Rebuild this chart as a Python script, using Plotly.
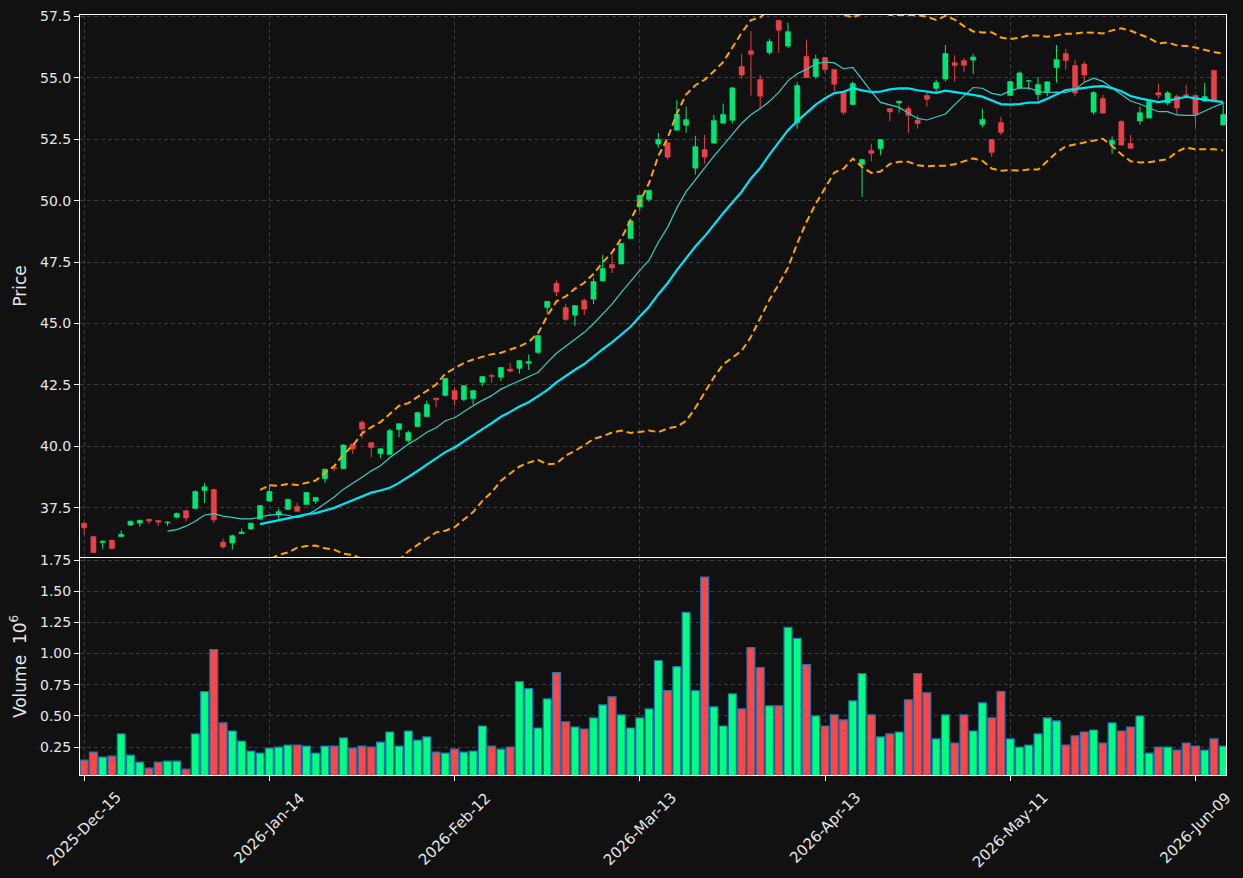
import plotly.graph_objects as go
import pandas as pd

# ---------------- data ----------------
opens = [36.87, 36.32, 36.08, 36.18, 36.32, 36.79, 36.87, 37.03, 36.98, 36.89,
         37.11, 37.38, 37.47, 38.20, 38.24, 36.10, 36.06, 36.44, 36.63, 37.03,
         37.77, 37.20, 37.43, 37.55, 37.63, 37.76, 38.68, 39.13, 39.09, 40.09,
         40.98, 40.15, 39.70, 39.66, 40.68, 40.23, 40.80, 41.21, 41.96, 42.07,
         42.27, 41.90, 41.94, 42.60, 42.88, 42.81, 43.14, 43.17, 43.38, 43.82,
         45.65, 46.63, 45.65, 45.34, 45.94, 45.99, 46.73, 47.40, 47.42, 48.46,
         49.74, 50.05, 52.30, 52.36, 52.87, 53.07, 51.32, 52.08, 52.34, 53.15,
         53.27, 55.46, 56.10, 54.93, 56.03, 57.34, 56.29, 53.17, 55.87, 55.05,
         55.83, 55.34, 54.44, 53.91, 51.47, 52.04, 52.12, 53.75, 53.98, 53.75,
         53.28, 54.28, 54.57, 54.95, 55.62, 55.70, 55.72, 53.10, 52.49, 53.18,
         54.28, 54.59, 54.86, 54.32, 54.43, 55.42, 55.99, 55.50, 55.56, 53.60,
         54.16, 52.29, 53.22, 52.33, 53.24, 53.36, 54.40, 53.97, 54.25, 54.31,
         54.28, 54.05, 55.30, 53.08]
highs = [36.88, 36.36, 36.17, 36.18, 36.57, 36.97, 37.00, 37.04, 36.99, 36.95,
         37.30, 37.39, 38.21, 38.51, 38.27, 36.24, 36.40, 36.65, 36.88, 37.61,
         38.45, 37.46, 37.86, 37.70, 38.13, 37.93, 39.08, 39.22, 40.08, 40.10,
         41.06, 40.16, 39.91, 40.72, 40.93, 40.64, 41.41, 41.86, 41.97, 42.77,
         42.38, 42.48, 42.28, 42.85, 42.95, 43.22, 43.41, 43.50, 43.74, 44.52,
         45.91, 46.75, 45.80, 45.74, 46.02, 46.85, 47.80, 47.81, 48.27, 49.27,
         50.23, 50.43, 52.76, 52.37, 54.10, 53.82, 52.64, 52.68, 53.49, 53.95,
         54.63, 55.98, 56.90, 55.12, 56.59, 57.35, 57.24, 54.82, 56.55, 55.94,
         55.84, 55.35, 54.45, 54.85, 51.70, 52.31, 52.50, 53.76, 54.08, 53.86,
         53.48, 54.43, 54.92, 56.34, 55.92, 55.80, 55.98, 53.74, 52.50, 53.41,
         54.86, 55.26, 54.90, 55.04, 54.85, 56.34, 56.18, 55.73, 55.66, 54.46,
         54.31, 52.62, 53.27, 52.67, 53.82, 54.05, 54.76, 54.46, 54.31, 54.72,
         54.29, 54.80, 55.31, 53.98]
lows = [36.40, 35.65, 35.83, 35.83, 36.31, 36.77, 36.72, 36.84, 36.76, 36.76,
        37.06, 36.94, 37.43, 37.69, 36.88, 35.83, 35.79, 36.43, 36.62, 37.02,
        37.72, 37.03, 37.41, 37.34, 37.62, 37.65, 38.51, 38.99, 39.08, 39.68,
        40.32, 39.56, 39.51, 39.65, 40.37, 40.14, 40.79, 41.20, 41.59, 42.02,
        41.66, 41.83, 41.70, 42.45, 42.58, 42.65, 43.00, 42.95, 43.10, 43.75,
        45.37, 46.11, 45.10, 44.89, 45.34, 45.79, 46.72, 47.05, 47.41, 48.45,
        49.58, 49.95, 52.15, 51.68, 52.86, 52.76, 51.06, 51.51, 52.33, 53.14,
        53.15, 54.96, 54.27, 53.71, 55.94, 56.02, 56.21, 52.92, 55.00, 54.96,
        55.20, 54.46, 53.49, 53.90, 50.15, 51.60, 51.85, 53.23, 53.58, 52.75,
        52.93, 53.82, 54.43, 54.84, 54.84, 55.23, 55.16, 52.99, 51.78, 52.67,
        54.27, 54.58, 54.51, 54.08, 54.25, 54.80, 55.33, 54.25, 54.84, 53.50,
        53.54, 51.91, 52.25, 52.12, 53.09, 53.35, 54.15, 53.88, 53.50, 54.15,
        52.99, 54.04, 54.01, 53.07]
closes = [36.68, 35.67, 36.14, 35.83, 36.42, 36.95, 36.99, 36.95, 36.91, 36.92,
          37.27, 37.08, 38.16, 38.35, 37.00, 35.90, 36.36, 36.51, 36.87, 37.59,
          38.16, 37.34, 37.84, 37.35, 38.12, 37.92, 39.07, 39.09, 40.05, 39.89,
          40.70, 39.95, 39.90, 40.64, 40.92, 40.56, 41.37, 41.70, 41.89, 42.76,
          41.90, 42.47, 42.27, 42.84, 42.84, 43.21, 43.06, 43.49, 43.45, 44.51,
          45.90, 46.28, 45.16, 45.73, 45.58, 46.71, 47.24, 47.26, 48.26, 49.17,
          50.22, 50.42, 52.49, 51.77, 53.51, 53.30, 52.20, 51.77, 53.26, 53.51,
          54.59, 55.11, 55.96, 54.25, 56.48, 56.94, 56.88, 54.69, 55.01, 55.77,
          55.34, 54.74, 53.59, 54.77, 51.67, 51.92, 52.49, 53.61, 54.05, 53.47,
          53.14, 54.12, 54.81, 55.99, 55.50, 55.51, 55.85, 53.31, 51.96, 52.78,
          54.85, 55.20, 54.89, 54.73, 54.84, 55.75, 55.70, 54.38, 55.11, 54.40,
          53.56, 52.45, 52.26, 52.13, 53.58, 54.04, 54.30, 54.39, 53.77, 54.25,
          53.52, 54.24, 54.02, 53.51]
volume_millions = [0.145, 0.210, 0.170, 0.177, 0.355, 0.185, 0.129, 0.081, 0.129, 0.137,
                   0.137, 0.073, 0.355, 0.694, 1.032, 0.444, 0.379, 0.298, 0.218, 0.202,
                   0.242, 0.250, 0.266, 0.266, 0.258, 0.202, 0.258, 0.258, 0.323, 0.242,
                   0.258, 0.250, 0.290, 0.371, 0.258, 0.379, 0.306, 0.331, 0.210, 0.202,
                   0.234, 0.210, 0.218, 0.419, 0.258, 0.234, 0.250, 0.774, 0.718, 0.403,
                   0.637, 0.847, 0.452, 0.411, 0.395, 0.484, 0.589, 0.653, 0.508, 0.403,
                   0.484, 0.556, 0.944, 0.702, 0.895, 1.331, 0.702, 1.613, 0.573, 0.419,
                   0.677, 0.556, 1.048, 0.887, 0.581, 0.581, 1.210, 1.121, 0.911, 0.500,
                   0.419, 0.508, 0.468, 0.621, 0.839, 0.508, 0.331, 0.355, 0.371, 0.629,
                   0.839, 0.685, 0.315, 0.508, 0.282, 0.508, 0.379, 0.605, 0.484, 0.694,
                   0.315, 0.250, 0.266, 0.355, 0.484, 0.460, 0.266, 0.339, 0.371, 0.387,
                   0.282, 0.444, 0.379, 0.411, 0.500, 0.202, 0.250, 0.250, 0.226, 0.282,
                   0.258, 0.226, 0.315, 0.258]
tick_labels = ["2025-Dec-15", "2026-Jan-14", "2026-Feb-12", "2026-Mar-13",
               "2026-Apr-13", "2026-May-11", "2026-Jun-09"]
tick_step = 20

# ---------------- derived series ----------------
n = len(closes)
xi = list(range(n))
cs = pd.Series(closes)
ma10 = cs.rolling(10).mean()
ma20 = cs.rolling(20).mean()
sd20 = cs.rolling(20).std()
bb_up = ma20 + 2 * sd20
bb_lo = ma20 - 2 * sd20

UP_C, DN_C = "#00e676", "#e8414a"
VUP_C, VDN_C = "#00ff80", "#ff4545"
up = [c >= o for o, c in zip(opens, closes)]
body_base = [min(o, c) for o, c in zip(opens, closes)]
body_h = [max(abs(c - o), 0.025) for o, c in zip(opens, closes)]
body_col = [UP_C if u else DN_C for u in up]

fig = go.Figure()

# wicks
for flag, col in ((True, UP_C), (False, DN_C)):
    wx, wy = [], []
    for i in xi:
        if up[i] == flag:
            wx += [i, i, None]
            wy += [lows[i], highs[i], None]
    fig.add_trace(go.Scatter(x=wx, y=wy, mode="lines", line=dict(color=col, width=1),
                             hoverinfo="skip", xaxis="x", yaxis="y"))

# candle bodies
fig.add_trace(go.Bar(x=xi, y=body_h, base=body_base, width=0.56,
                     marker=dict(color=body_col, line=dict(color=body_col, width=0.5)),
                     xaxis="x", yaxis="y"))

# moving averages / bollinger
fig.add_trace(go.Scatter(x=xi, y=ma10, mode="lines", line=dict(color="#3ccbc3", width=1.2),
                         xaxis="x", yaxis="y"))
fig.add_trace(go.Scatter(x=xi, y=ma20, mode="lines", line=dict(color="#00e5f5", width=2.2),
                         xaxis="x", yaxis="y"))
for band in (bb_up, bb_lo):
    fig.add_trace(go.Scatter(x=xi, y=band, mode="lines",
                             line=dict(color="#ffa500", width=2, dash="7px,4px"),
                             xaxis="x", yaxis="y"))

# volume
fig.add_trace(go.Bar(x=xi, y=volume_millions, width=0.85,
                     marker=dict(color=[VUP_C if u else VDN_C for u in up],
                                 line=dict(color="#1f77b4", width=1.2)),
                     xaxis="x2", yaxis="y2"))

tickvals = list(range(0, n, tick_step))[:len(tick_labels)]
axis_common = dict(showgrid=True, gridcolor="#3c3c3c", griddash="4px,3px", gridwidth=1,
                   showline=True, mirror=True, linecolor="#ffffff", linewidth=1,
                   ticks="outside", tickcolor="#ffffff", zeroline=False)

fig.update_layout(
    width=1243, height=878,
    margin=dict(l=80, r=17, t=15, b=103),
    paper_bgcolor="#111111", plot_bgcolor="#111111",
    showlegend=False, barmode="overlay",
    font=dict(family="DejaVu Sans", size=14, color="#e6e6e6"),
    xaxis=dict(domain=[0, 1], anchor="y", range=[-0.45, 123.3], tickvals=tickvals,
               showticklabels=False, ticklen=4, **axis_common),
    xaxis2=dict(domain=[0, 1], anchor="y2", matches="x", range=[-0.45, 123.3],
                tickvals=tickvals, showticklabels=False, ticklen=5, **axis_common),
    yaxis=dict(domain=[0.2868, 1], anchor="x", range=[35.49, 57.557],
               tickvals=[37.5 + 2.5 * k for k in range(9)], tickformat=".1f", ticklen=5,
               title=dict(text="Price", standoff=9), automargin=False, **axis_common),
    yaxis2=dict(domain=[0, 0.2855], anchor="x2", range=[0.026, 1.766],
                tickvals=[0.25 * k for k in range(1, 8)], tickformat=".2f", ticklen=5,
                title=dict(text="Volume  10<sup>6</sup>", standoff=9), automargin=False,
                **axis_common),
)

for tv, lab in zip(tickvals, tick_labels):
    fig.add_annotation(x=tv, xref="x2", y=0, yref="paper", yshift=-11,
                       text=lab, textangle=-45, showarrow=False,
                       xanchor="center", yanchor="top",
                       font=dict(family="DejaVu Sans", size=15, color="#e6e6e6"))

fig.write_html("out.html")
